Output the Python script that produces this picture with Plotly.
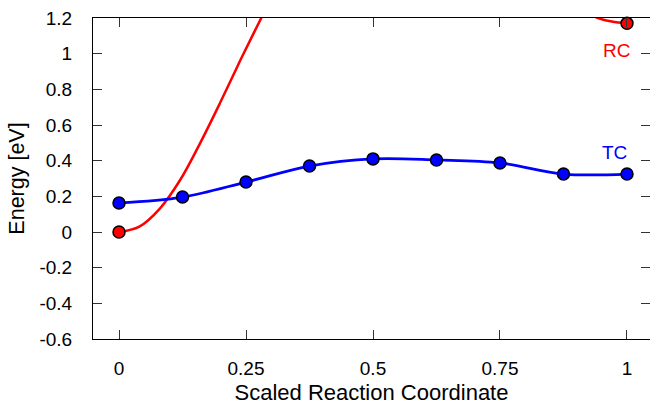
import plotly.graph_objects as go

# Transition-curve (TC) images
tc_x = [0, 0.125, 0.25, 0.375, 0.5, 0.625, 0.75, 0.875, 1.0]
tc_y = [0.163, 0.196, 0.28, 0.37, 0.41, 0.404, 0.387, 0.325, 0.325]

# Reaction-curve (RC) line (None = off-chart gap)
rc_line_x = [0, 0.04, 0.08, 0.12, 0.16, 0.20, 0.24, 0.28, 0.32,
             None, 0.9, 0.943, 0.97, 1.0]
rc_line_y = [0, 0.03, 0.13, 0.29, 0.50, 0.73, 0.97, 1.2, 1.43,
             None, 1.26, 1.2, 1.18, 1.17]
# RC end-point markers
rc_x = [0, 1.0]
rc_y = [0, 1.17]

x_ticks = [0, 0.25, 0.5, 0.75, 1]
x_labels = ["0", "0.25", "0.5", "0.75", "1"]
y_ticks = [-0.6, -0.4, -0.2, 0, 0.2, 0.4, 0.6, 0.8, 1.0, 1.2]
y_labels = ["-0.6", "-0.4", "-0.2", "0", "0.2", "0.4", "0.6", "0.8", "1", "1.2"]

RED = "#ff0000"
BLUE = "#0000ff"
FONT = "Liberation Sans, Arial, Helvetica, sans-serif"

fig = go.Figure()
fig.add_trace(go.Scatter(x=rc_line_x, y=rc_line_y, mode="lines",
                         line=dict(color=RED, width=2.5, shape="spline"),
                         connectgaps=False, hoverinfo="skip", showlegend=False))
fig.add_trace(go.Scatter(x=tc_x, y=tc_y, mode="lines",
                         line=dict(color=BLUE, width=2.8, shape="spline", smoothing=1.0),
                         showlegend=False))
fig.add_trace(go.Scatter(x=rc_x, y=rc_y, mode="markers",
                         marker=dict(color=RED, size=12, line=dict(color="black", width=1.5)),
                         cliponaxis=False, showlegend=False))
fig.add_trace(go.Scatter(x=tc_x, y=tc_y, mode="markers",
                         marker=dict(color=BLUE, size=12, line=dict(color="black", width=1.5)),
                         cliponaxis=False, showlegend=False))

fig.add_annotation(x=0.98, y=1.02, text="RC", showarrow=False,
                   font=dict(color=RED, size=19, family=FONT))
fig.add_annotation(x=0.976, y=0.446, text="TC", showarrow=False,
                   font=dict(color=BLUE, size=19, family=FONT))

fig.update_layout(
    width=650, height=405,
    margin=dict(l=93, r=0, t=18, b=66),
    paper_bgcolor="white", plot_bgcolor="white",
    font=dict(family=FONT, size=19, color="black"),
    xaxis=dict(range=[-0.0512, 1.0453], tickvals=x_ticks, ticktext=x_labels,
               ticks="inside", ticklen=9, tickcolor="#333333", tickwidth=1,
               showline=True, linecolor="black", linewidth=1, mirror="ticks",
               showgrid=False, zeroline=False, ticklabelstandoff=12,
               title=dict(text="Scaled Reaction Coordinate", standoff=10,
                          font=dict(size=22))),
    yaxis=dict(range=[-0.6, 1.2], tickvals=y_ticks, ticktext=y_labels,
               ticks="inside", ticklen=9, tickcolor="#333333", tickwidth=1,
               showline=True, linecolor="black", linewidth=1, mirror="ticks",
               showgrid=False, zeroline=False, ticklabelstandoff=16,
               title=dict(text="Energy [eV]", standoff=8, font=dict(size=21.5))),
)

fig.write_html("out.html", config={"displayModeBar": False},
               post_script="document.body.style.margin='0';")
